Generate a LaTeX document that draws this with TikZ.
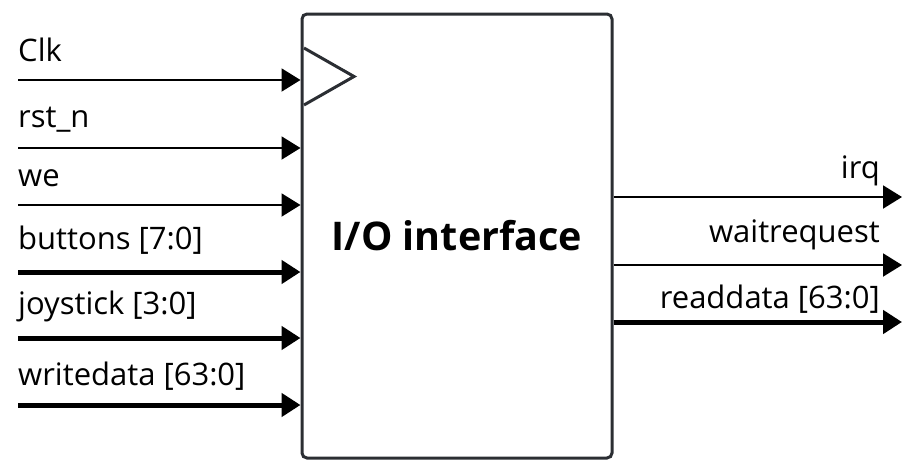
\documentclass[tikz,border=0pt]{standalone}
\usepackage{fontspec}
\setmainfont{Open Sans}
\usetikzlibrary{arrows.meta}
\definecolor{boxline}{HTML}{2B2E33}
\tikzset{
  sig/.style={line width=2pt, -{Triangle[length=19pt,width=23pt]}},
  bus/.style={line width=5pt, -{Triangle[length=19pt,width=23pt]}},
  lbl/.style={inner sep=0pt, font=\fontsize{31}{36}\selectfont},
}
\begin{document}
\begin{tikzpicture}[x=1pt, y=-1pt]
\useasboundingbox (0,0) rectangle (908,471);
% the block
\node (iface) at (457,236) [draw=boxline, line width=3pt, rounded corners=5pt,
  minimum width=310pt, minimum height=444pt, inner sep=0pt,
  font=\fontsize{39.5}{46}\selectfont\bfseries] {I/O interface};
\draw[boxline, line width=3pt, line join=miter] (304,48) -- (354,76.5) -- (304,105);

% inputs
\coordinate (clk) at (18,80);
\coordinate (rst) at (18,148);
\coordinate (we) at (18,205);
\coordinate (btn) at (18,272);
\coordinate (joy) at (18,338);
\coordinate (wdata) at (18,405);
\draw[sig] (clk) -- (iface.west |- clk);
\draw[sig] (rst) -- (iface.west |- rst);
\draw[sig] (we) -- (iface.west |- we);
\draw[bus] (btn) -- (iface.west |- btn);
\draw[bus] (joy) -- (iface.west |- joy);
\draw[bus] (wdata) -- (iface.west |- wdata);
\node[lbl, anchor=base west] (clk-l) at (18,61) {Clk};
\node[lbl, anchor=base west] (rst-l) at (18,127) {rst\_n};
\node[lbl, anchor=base west] (we-l) at (18,186) {we};
\node[lbl, anchor=base west] (btn-l) at (18,249) {buttons [7:0]};
\node[lbl, anchor=base west] (joy-l) at (18,314) {joystick [3:0]};
\node[lbl, anchor=base west] (wdata-l) at (18,385) {writedata [63:0]};

% outputs
\coordinate (irq) at (902,197);
\coordinate (wait) at (902,265);
\coordinate (rdata) at (902,322);
\draw[sig] (iface.east |- irq) -- (irq);
\draw[sig] (iface.east |- wait) -- (wait);
\draw[bus] (iface.east |- rdata) -- (rdata);
\node[lbl, anchor=base east] (irq-l) at (880,178) {irq};
\node[lbl, anchor=base east] (wait-l) at (880,242) {waitrequest};
\node[lbl, anchor=base east] (rdata-l) at (880,308) {readdata [63:0]};
\end{tikzpicture}
\end{document}
